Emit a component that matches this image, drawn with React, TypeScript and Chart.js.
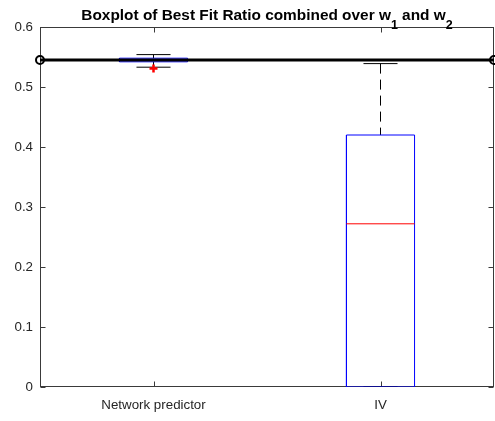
import React, { useEffect, useRef } from "react";
import { Chart, registerables } from "chart.js";

Chart.register(...registerables);

// ---- data ----
const categories = ["Network predictor", "IV"];
const q1 = [0.542, 0.0];
const medians = [0.545, 0.272];
const q3 = [0.548, 0.42];
const whiskerLow = [0.533, 0.0];
const whiskerHigh = [0.554, 0.539];
const outliers = [[0.531], []];
const referenceValue = 0.545;
const yTicks = [0, 0.1, 0.2, 0.3, 0.4, 0.5, 0.6];

const titleMain = "Boxplot of Best Fit Ratio combined over w";
const titleSub1 = "1";
const titleMid = " and w";
const titleSub2 = "2";

const FONT = "'Liberation Sans', Arial, Helvetica, sans-serif";
const BOX_HALF = 0.15;
const CAP_HALF = 0.075;

export default function App() {
  const ref = useRef<HTMLCanvasElement | null>(null);

  useEffect(() => {
    const canvas = ref.current;
    if (!canvas) return;

    const datasets: any[] = [];
    // reference line (drawn on top: first dataset)
    datasets.push({
      data: [
        { x: 0.5, y: referenceValue },
        { x: categories.length + 0.5, y: referenceValue },
      ],
      showLine: true,
      borderColor: "#000000",
      borderWidth: 3,
      pointRadius: 4,
      pointBorderWidth: 2,
      pointBorderColor: "#000000",
      pointBackgroundColor: "rgba(0,0,0,0)",
      clip: false,
    });

    categories.forEach((_, i) => {
      const x = i + 1;
      // outliers
      datasets.push({
        data: outliers[i].map((v) => ({ x, y: v })),
        showLine: false,
        pointStyle: "cross",
        pointRadius: 4,
        pointBorderWidth: 2.5,
        pointBorderColor: "#ff0000",
        pointBackgroundColor: "#ff0000",
      });
      // median
      datasets.push({
        data: [
          { x: x - BOX_HALF, y: medians[i] },
          { x: x + BOX_HALF, y: medians[i] },
        ],
        showLine: true,
        borderColor: "#ff0000",
        borderWidth: 1,
        pointRadius: 0,
      });
      // box
      datasets.push({
        data: [
          { x: x - BOX_HALF, y: q1[i] },
          { x: x + BOX_HALF, y: q1[i] },
          { x: x + BOX_HALF, y: q3[i] },
          { x: x - BOX_HALF, y: q3[i] },
          { x: x - BOX_HALF, y: q1[i] },
        ],
        showLine: true,
        borderColor: "#0000ff",
        borderWidth: 1,
        pointRadius: 0,
      });
      // caps
      datasets.push({
        data: [
          { x: x - CAP_HALF, y: whiskerHigh[i] },
          { x: x + CAP_HALF, y: whiskerHigh[i] },
        ],
        showLine: true,
        borderColor: "#000000",
        borderWidth: 1,
        pointRadius: 0,
      });
      datasets.push({
        data: [
          { x: x - CAP_HALF, y: whiskerLow[i] },
          { x: x + CAP_HALF, y: whiskerLow[i] },
        ],
        showLine: true,
        borderColor: "#000000",
        borderWidth: 1,
        pointRadius: 0,
      });
      // whiskers
      datasets.push({
        data: [
          { x, y: whiskerHigh[i] },
          { x, y: q3[i] },
        ],
        showLine: true,
        borderColor: "#000000",
        borderWidth: 1,
        borderDash: [10, 6],
        pointRadius: 0,
      });
      datasets.push({
        data: [
          { x, y: q1[i] },
          { x, y: whiskerLow[i] },
        ],
        showLine: true,
        borderColor: "#000000",
        borderWidth: 1,
        borderDash: [10, 6],
        pointRadius: 0,
      });
    });

    const framePlugin = {
      id: "frame",
      beforeDatasetsDraw(chart: any) {
        const { ctx, chartArea: a, scales } = chart;
        ctx.save();
        ctx.strokeStyle = "#3a3a3a";
        ctx.lineWidth = 1;
        const L = Math.round(a.left) + 0.5;
        const R = Math.round(a.right) - 0.5;
        const T = Math.round(a.top) + 0.5;
        const B = Math.round(a.bottom) - 0.5;
        ctx.strokeRect(L, T, R - L, B - T);
        const tl = 5;
        ctx.beginPath();
        categories.forEach((_, i) => {
          const px = Math.round(scales.x.getPixelForValue(i + 1)) + 0.5;
          ctx.moveTo(px, B);
          ctx.lineTo(px, B - tl);
          ctx.moveTo(px, T);
          ctx.lineTo(px, T + tl);
        });
        yTicks.forEach((v) => {
          const py = Math.round(scales.y.getPixelForValue(v)) + 0.5;
          ctx.moveTo(L, py);
          ctx.lineTo(L + tl, py);
          ctx.moveTo(R, py);
          ctx.lineTo(R - tl, py);
        });
        ctx.stroke();
        ctx.restore();
      },
    };

    const titlePlugin = {
      id: "richTitle",
      afterDraw(chart: any) {
        const { ctx, chartArea: a } = chart;
        ctx.save();
        const big = `bold 15.4px ${FONT}`;
        const small = `bold 12.5px ${FONT}`;
        ctx.font = big;
        const w1 = ctx.measureText(titleMain).width;
        const w3 = ctx.measureText(titleMid).width;
        ctx.font = small;
        const w2 = ctx.measureText(titleSub1).width;
        const w4 = ctx.measureText(titleSub2).width;
        const total = w1 + w2 + w3 + w4;
        let x = (a.left + a.right) / 2 - total / 2;
        const base = 19.5;
        const subBase = 28.5;
        ctx.fillStyle = "#000000";
        ctx.textBaseline = "alphabetic";
        ctx.textAlign = "left";
        ctx.font = big;
        ctx.fillText(titleMain, x, base);
        x += w1;
        ctx.font = small;
        ctx.fillText(titleSub1, x, subBase);
        x += w2;
        ctx.font = big;
        ctx.fillText(titleMid, x, base);
        x += w3;
        ctx.font = small;
        ctx.fillText(titleSub2, x, subBase);
        ctx.restore();
      },
    };

    const chart = new Chart(canvas, {
      type: "scatter",
      data: { datasets },
      options: {
        responsive: false,
        animation: false,
        events: [],
        layout: { autoPadding: false, padding: { top: 27, right: 1, bottom: 0, left: 0 } },
        plugins: {
          legend: { display: false },
          tooltip: { enabled: false },
          title: { display: false },
        },
        scales: {
          x: {
            type: "linear",
            min: 0.5,
            max: categories.length + 0.5,
            grid: { display: false, drawTicks: false },
            border: { display: false },
            afterBuildTicks: (scale: any) => {
              scale.ticks = categories.map((_, i) => ({ value: i + 1 }));
            },
            afterFit: (scale: any) => {
              scale.height = 34;
              scale.paddingLeft = 0;
              scale.paddingRight = 0;
            },
            ticks: {
              padding: 10,
              color: "#262626",
              font: { family: FONT, size: 13.33 },
              maxRotation: 0,
              autoSkip: false,
              callback: (v: any) => categories[Math.round(Number(v)) - 1] ?? "",
            },
          },
          y: {
            type: "linear",
            min: 0,
            max: 0.6,
            grid: { display: false, drawTicks: false },
            border: { display: false },
            afterBuildTicks: (scale: any) => {
              scale.ticks = yTicks.map((v) => ({ value: v }));
            },
            afterFit: (scale: any) => {
              scale.width = 40;
              scale.paddingTop = 0;
              scale.paddingBottom = 0;
            },
            ticks: {
              padding: 7,
              color: "#262626",
              font: { family: FONT, size: 13.33 },
              callback: (v: any) => {
                const n = Number(v);
                return n === 0 ? "0" : n.toFixed(1);
              },
            },
          },
        },
      },
      plugins: [framePlugin, titlePlugin],
    });

    return () => chart.destroy();
  }, []);

  return (
    <div style={{ position: "absolute", left: 0, top: 0, width: 495, height: 421, background: "#ffffff" }}>
      <canvas ref={ref} width={495} height={421} style={{ display: "block" }} />
    </div>
  );
}
